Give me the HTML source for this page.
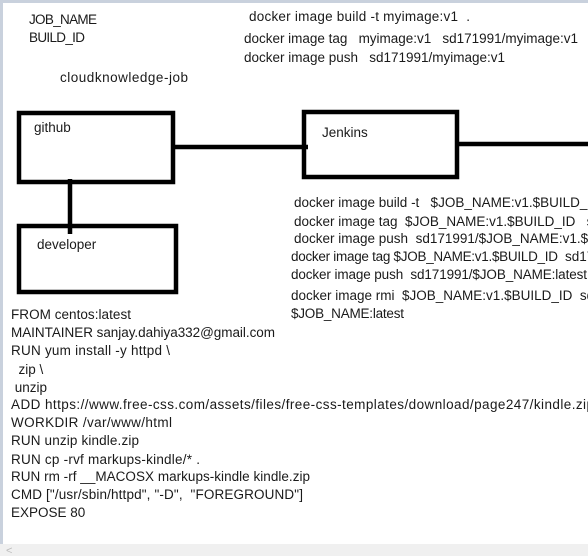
<!DOCTYPE html>
<html><head><meta charset="utf-8"><style>
html,body{margin:0;padding:0;background:#fff;width:588px;height:556px;overflow:hidden}
svg{display:block}
text{font-family:"Liberation Sans",sans-serif;font-size:13.5px;fill:#1a1a1a;white-space:pre}
</style></head><body>
<svg width="588" height="556" viewBox="0 0 588 556" xmlns="http://www.w3.org/2000/svg" xml:space="preserve">
<rect x="0" y="0" width="588" height="556" fill="#fff"/>
<rect x="0" y="0" width="588" height="3" fill="#c9d1dd"/>
<rect x="0" y="0" width="3" height="556" fill="#c9d1dd"/>
<rect x="0" y="544" width="588" height="12" fill="#f0f0f0"/>
<text x="6" y="554" style="font-size:11px;fill:#bbb">&lt;</text>

<text x="29" y="24" textLength="68">JOB_NAME</text>
<text x="29" y="42" textLength="56">BUILD_ID</text>
<text x="60" y="82" textLength="128">cloudknowledge-job</text>
<text x="249" y="21" textLength="221">docker image build -t myimage:v1  .</text>
<text x="244" y="43" textLength="334">docker image tag   myimage:v1   sd171991/myimage:v1</text>
<text x="244" y="62" textLength="261">docker image push   sd171991/myimage:v1</text>

<g fill="none" stroke="#000" stroke-width="4.5">
<rect x="19" y="113" width="154" height="69"/>
<rect x="304" y="112" width="153" height="65"/>
<rect x="19" y="226" width="157" height="66"/>
</g>
<line x1="173" y1="147" x2="308" y2="147" stroke="#000" stroke-width="4.5"/>
<line x1="457" y1="144" x2="588" y2="144" stroke="#000" stroke-width="4.5"/>
<line x1="70" y1="179" x2="70" y2="234" stroke="#000" stroke-width="4.5"/>

<text x="34" y="132">github</text>
<text x="322" y="137">Jenkins</text>
<text x="37" y="249">developer</text>

<text x="294" y="207">docker image build -t   $JOB_NAME:v1.$BUILD_ID</text>
<text x="294" y="226">docker image tag  $JOB_NAME:v1.$BUILD_ID   sd171991</text>
<text x="294" y="243">docker image push  sd171991/$JOB_NAME:v1.$BUILD_ID</text>
<text x="291" y="261" textLength="267">docker image tag $JOB_NAME:v1.$BUILD_ID</text>
<text x="565" y="261">sd171991</text>
<text x="291" y="279" textLength="296">docker image push  sd171991/$JOB_NAME:latest</text>
<text x="291" y="300">docker image rmi  $JOB_NAME:v1.$BUILD_ID  sd171991</text>
<text x="291" y="318" textLength="113">$JOB_NAME:latest</text>

<text x="11" y="319" textLength="120">FROM centos:latest</text>
<text x="11" y="337" textLength="264">MAINTAINER sanjay.dahiya332@gmail.com</text>
<text x="11" y="355" textLength="159">RUN yum install -y httpd \</text>
<text x="11" y="374">  zip \</text>
<text x="11" y="392"> unzip</text>
<text x="11" y="409" textLength="583">ADD https://www.free-css.com/assets/files/free-css-templates/download/page247/kindle.zip</text>
<text x="11" y="427" textLength="161">WORKDIR /var/www/html</text>
<text x="11" y="445" textLength="128">RUN unzip kindle.zip</text>
<text x="11" y="464" textLength="189">RUN cp -rvf markups-kindle/* .</text>
<text x="11" y="481" textLength="299">RUN rm -rf __MACOSX markups-kindle kindle.zip</text>
<text x="11" y="499" textLength="292">CMD ["/usr/sbin/httpd", "-D",  "FOREGROUND"]</text>
<text x="11" y="517">EXPOSE 80</text>
</svg>
</body></html>
